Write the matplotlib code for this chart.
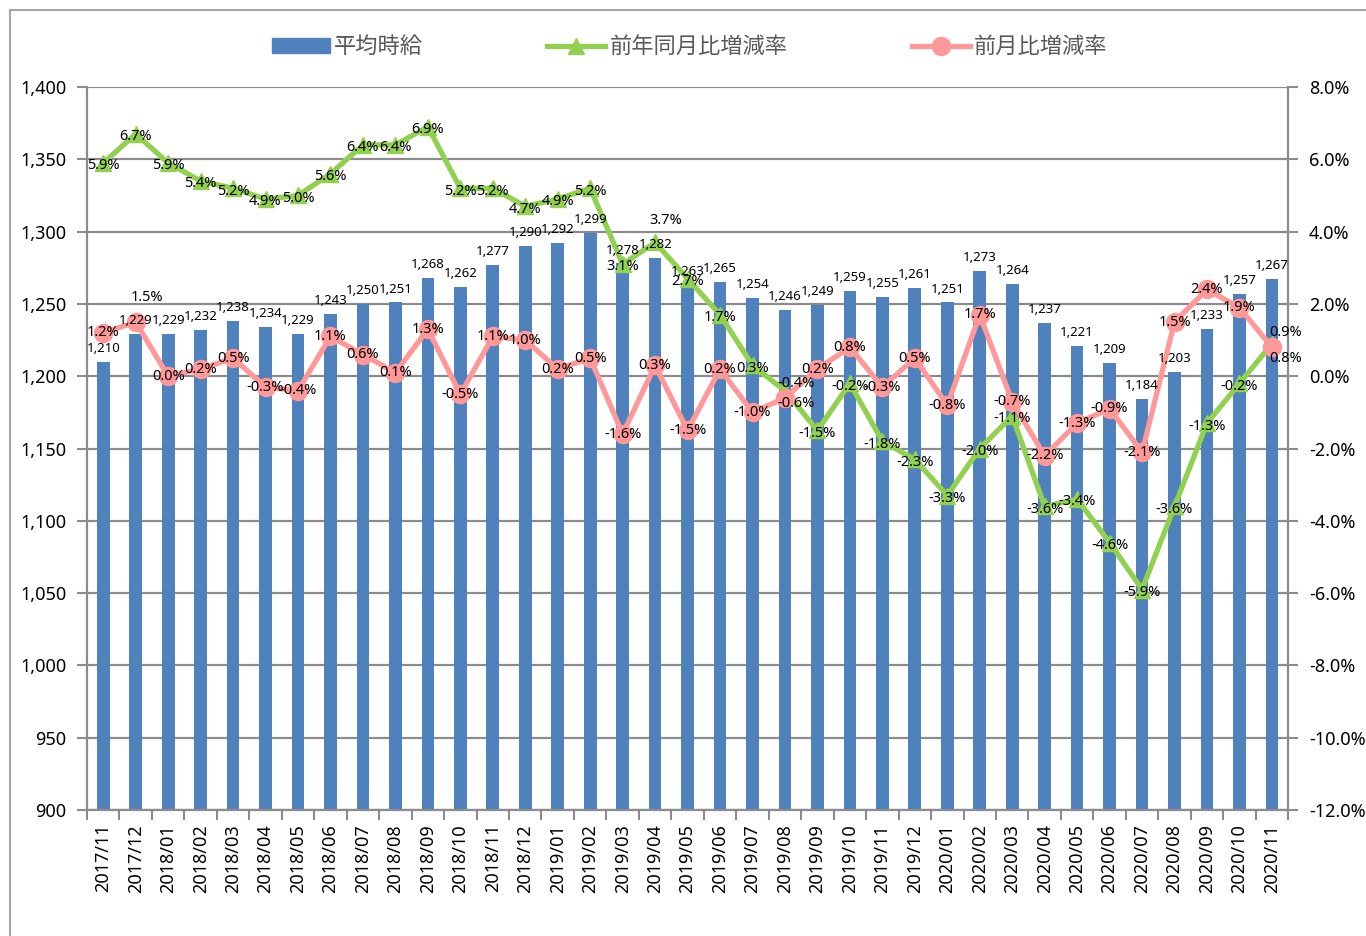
import matplotlib.pyplot as plt
import numpy as np
from matplotlib.patches import Rectangle, Patch
from matplotlib.ticker import FuncFormatter

plt.rcParams['font.family'] = ['Noto Sans', 'Noto Sans CJK JP', 'DejaVu Sans']

months = ['2017/11', '2017/12',
          '2018/01', '2018/02', '2018/03', '2018/04', '2018/05', '2018/06',
          '2018/07', '2018/08', '2018/09', '2018/10', '2018/11', '2018/12',
          '2019/01', '2019/02', '2019/03', '2019/04', '2019/05', '2019/06',
          '2019/07', '2019/08', '2019/09', '2019/10', '2019/11', '2019/12',
          '2020/01', '2020/02', '2020/03', '2020/04', '2020/05', '2020/06',
          '2020/07', '2020/08', '2020/09', '2020/10', '2020/11']

# 平均時給 (円)
wage = [1210, 1229,
        1229, 1232, 1238, 1234, 1229, 1243,
        1250, 1251, 1268, 1262, 1277, 1290,
        1292, 1299, 1278, 1282, 1263, 1265,
        1254, 1246, 1249, 1259, 1255, 1261,
        1251, 1273, 1264, 1237, 1221, 1209,
        1184, 1203, 1233, 1257, 1267]

# 前年同月比増減率 (%)
yoy = [5.9, 6.7,
       5.9, 5.4, 5.2, 4.9, 5.0, 5.6,
       6.4, 6.4, 6.9, 5.2, 5.2, 4.7,
       4.9, 5.2, 3.1, 3.7, 2.7, 1.7,
       0.3, -0.4, -1.5, -0.2, -1.8, -2.3,
       -3.3, -2.0, -1.1, -3.6, -3.4, -4.6,
       -5.9, -3.6, -1.3, -0.2, 0.9]

# 前月比増減率 (%)
mom = [1.2, 1.5,
       0.0, 0.2, 0.5, -0.3, -0.4, 1.1,
       0.6, 0.1, 1.3, -0.5, 1.1, 1.0,
       0.2, 0.5, -1.6, 0.3, -1.5, 0.2,
       -1.0, -0.6, 0.2, 0.8, -0.3, 0.5,
       -0.8, 1.7, -0.7, -2.2, -1.3, -0.9,
       -2.1, 1.5, 2.4, 1.9, 0.8]

blue = '#4F81BD'
green = '#92D050'
pink = '#FF9999'
grid_gray = '#8C8C8C'

fig = plt.figure(figsize=(13.66, 9.36), dpi=100)
ax = fig.add_axes([0.0637, 0.1346, 0.8793, 0.7724])
ax2 = ax.twinx()

x = np.arange(len(months))
ax.bar(x, wage, width=0.39, color=blue, zorder=2)
ax.set_axisbelow(True)
ax.set_xlim(-0.5, len(months) - 0.5)
ax.set_ylim(900, 1400)
ax.set_yticks(np.arange(900, 1401, 50))
ax.yaxis.set_major_formatter(FuncFormatter(lambda v, p: f'{v:,.0f}'))
ax.grid(axis='y', color=grid_gray, lw=1.6)

ax.set_xticks(x)
ax.set_xticklabels(months, rotation=90)
ax.set_xticks(np.arange(-0.5, len(months)), minor=True)
ax.tick_params(axis='x', which='major', length=0, pad=10, labelsize=13)
ax.tick_params(axis='x', which='minor', length=7, color=grid_gray, width=1.5)
ax.tick_params(axis='y', length=7, color=grid_gray, width=1.5, labelsize=13, pad=8)

for s in ['top', 'right']:
    ax.spines[s].set_visible(False)
for s in ['left', 'bottom']:
    ax.spines[s].set_color(grid_gray)
    ax.spines[s].set_linewidth(1.6)

l_yoy, = ax2.plot(x, yoy, color=green, lw=3.8, marker='^', ms=12, zorder=3)
l_mom, = ax2.plot(x, mom, color=pink, lw=3.8, marker='o', ms=13, zorder=4)
ax2.set_ylim(-12, 8)
ax2.set_yticks(np.arange(-12, 8.1, 2))
ax2.yaxis.set_major_formatter(FuncFormatter(lambda v, p: f'{v:.1f}%'))
ax2.tick_params(axis='y', length=7, color=grid_gray, width=1.5, labelsize=13, pad=8)
for s in ['top', 'left', 'bottom']:
    ax2.spines[s].set_visible(False)
ax2.spines['right'].set_color(grid_gray)
ax2.spines['right'].set_linewidth(1.6)

# bar value labels go on the top axes so the lines do not hide them
for xi, v in zip(x, wage):
    ax2.annotate(f'{v:,}', (xi, v), xycoords=ax.transData, xytext=(0, 5),
                 textcoords='offset points', ha='center', va='bottom',
                 fontsize=9.5, zorder=6)

# a few labels nudged so they do not sit on top of each other
yoy_shift = {17: (8, 16), 21: (8, 5), 36: (10, 8)}
mom_shift = {1: (8, 18), 21: (8, -4), 36: (10, -8)}
for i, v in enumerate(yoy):
    dx, dy = yoy_shift.get(i, (0, -2))
    ax2.annotate(f'{v:.1f}%', (i, v), xytext=(dx, dy), textcoords='offset points',
                 ha='center', va='center', fontsize=10.5, zorder=6)
for i, v in enumerate(mom):
    dx, dy = mom_shift.get(i, (0, 0))
    ax2.annotate(f'{v:.1f}%', (i, v), xytext=(dx, dy), textcoords='offset points',
                 ha='center', va='center', fontsize=10.5, zorder=6)

handles = [Patch(color=blue), l_yoy, l_mom]
labels = ['平均時給', '前年同月比増減率', '前月比増減率']
leg = fig.legend(handles, labels, loc='center', bbox_to_anchor=(0.505, 0.95), ncol=3,
                 frameon=False, columnspacing=5.6, handlelength=2.6,
                 handletextpad=0.2, prop={'family': ['Noto Sans CJK JP'], 'size': 16})
for t in leg.get_texts():
    t.set_color('#595959')

fig.add_artist(Rectangle((10 / 1366, -0.1), 1.2, 1.1 - 10 / 936, transform=fig.transFigure,
                         fill=False, edgecolor='#A6A6A6', lw=1.5, clip_on=False))

fig.savefig('out.png', dpi=100)
